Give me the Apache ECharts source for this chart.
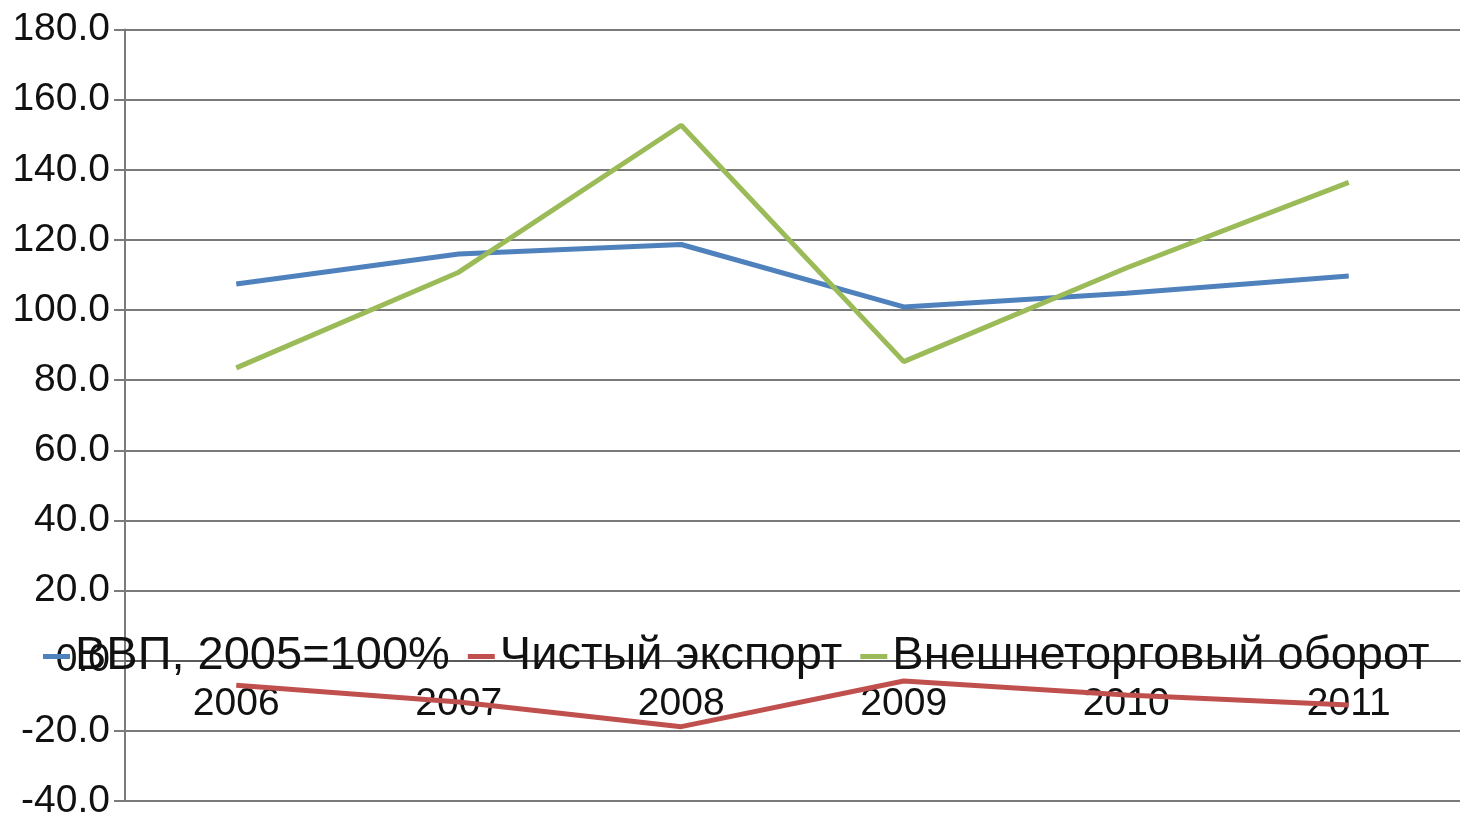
<!DOCTYPE html>
<html>
<head>
<meta charset="utf-8">
<script src="https://cdn.jsdelivr.net/npm/echarts@6/dist/echarts.min.js"></script>
<style>
  html, body { margin: 0; padding: 0; background: #fff; }
  #chart { width: 1468px; height: 819px; }
</style>
</head>
<body>
<div id="chart"></div>
<script>
// годы
const years = ["2006", "2007", "2008", "2009", "2010", "2011"];
// ВВП, 2005=100%
const gdp = [107.4, 116.0, 118.7, 100.9, 104.8, 109.7];
// Чистый экспорт
const netExport = [-7.0, -11.8, -18.8, -5.8, -9.8, -12.6];
// Внешнеторговый оборот
const tradeTurnover = [83.5, 110.8, 152.7, 85.3, 112.0, 136.4];

const chart = echarts.init(document.getElementById("chart"));

const font = "Liberation Sans";
const gridTop = 29.5;
const gridBottom = 18;
const yMin = -40;
const yMax = 180;
// ось категорий проходит по нулю: сдвиг вверх от нижнего края сетки
const plotHeight = 819 - gridTop - gridBottom;
const zeroOffset = -plotHeight * (0 - yMin) / (yMax - yMin);

chart.setOption({
  animation: false,
  color: ["#4f81bd", "#c0504d", "#9bbb59"],
  grid: {
    left: 125,
    right: 8,
    top: gridTop,
    bottom: gridBottom,
    containLabel: false,
    outerBoundsMode: "none",
  },
  legend: {
    left: 38,
    top: 628,
    icon: "rect",
    itemWidth: 27,
    itemHeight: 5,
    itemGap: 18,
    textStyle: {
      fontFamily: font,
      fontSize: 47,
      color: "#111",
    },
    data: ["ВВП, 2005=100%", "Чистый экспорт", "Внешнеторговый оборот"],
  },
  xAxis: {
    type: "category",
    data: years,
    boundaryGap: true,
    position: "bottom",
    offset: zeroOffset,
    axisLine: {
      onZero: false,
      lineStyle: { color: "#5a5a5a", width: 2 },
    },
    axisTick: { show: false },
    axisLabel: {
      fontFamily: font,
      fontSize: 39,
      color: "#111",
      margin: 24,
    },
  },
  yAxis: {
    type: "value",
    min: yMin,
    max: yMax,
    interval: 20,
    axisLine: {
      show: true,
      lineStyle: { color: "#7a7a7a", width: 2 },
    },
    axisTick: {
      show: true,
      length: 11,
      lineStyle: { color: "#7a7a7a", width: 2 },
    },
    axisLabel: {
      fontFamily: font,
      fontSize: 39,
      color: "#111",
      margin: 15,
      formatter: (v) => v.toFixed(1),
    },
    splitLine: {
      show: true,
      lineStyle: { color: "#7a7a7a", width: 2 },
    },
  },
  series: [
    {
      name: "ВВП, 2005=100%",
      type: "line",
      data: gdp,
      symbol: "none",
      lineStyle: { width: 5 },
    },
    {
      name: "Чистый экспорт",
      type: "line",
      data: netExport,
      symbol: "none",
      lineStyle: { width: 5 },
    },
    {
      name: "Внешнеторговый оборот",
      type: "line",
      data: tradeTurnover,
      symbol: "none",
      lineStyle: { width: 5 },
    },
  ],
});
</script>
</body>
</html>
